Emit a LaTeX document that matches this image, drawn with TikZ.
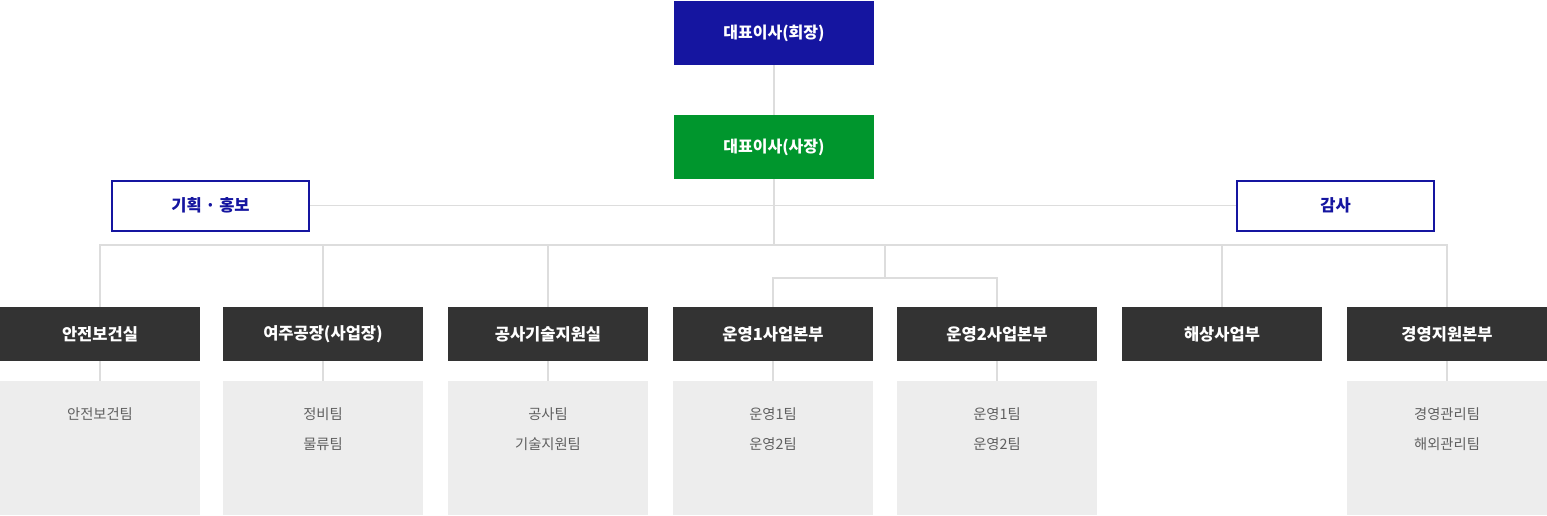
\documentclass[tikz,border=0pt]{standalone}
\usepackage{fontspec}
\setmainfont{Noto Sans CJK KR}
\usetikzlibrary{positioning}
\definecolor{chairblue}{HTML}{1515A0}
\definecolor{ceogreen}{HTML}{00962D}
\definecolor{deptgray}{HTML}{333333}
\definecolor{teamgray}{HTML}{EDEDED}
\definecolor{linegray}{HTML}{DDDDDD}
\definecolor{teamtext}{HTML}{606060}
\begin{document}
\begin{tikzpicture}[x=1pt, y=-1pt,
		link/.style={draw=linegray, line width=1.2pt},
		head/.style={minimum width=200pt, minimum height=64pt, inner sep=0pt, text=white, font=\bfseries\fontsize{16}{19}\selectfont},
		staff/.style={draw=chairblue, line width=2pt, fill=white, minimum width=197pt, minimum height=50pt, inner sep=0pt, text=chairblue, font=\bfseries\fontsize{16.5}{19}\selectfont},
		dept/.style={fill=deptgray, minimum width=200pt, minimum height=54pt, inner sep=0pt, text=white, font=\bfseries\fontsize{16.5}{19}\selectfont},
		team/.style={fill=teamgray, minimum width=200pt, minimum height=134pt, inner sep=0pt},
		teamlist/.style={align=center, inner sep=0pt, text=teamtext, font=\fontsize{14.3}{30}\selectfont}]
		\useasboundingbox (0,0) rectangle (1547,515);
		\node[head, fill=chairblue] (chair) at (774,33) {대표이사(회장)};
		\node[head, fill=ceogreen] (ceo) at (774,147) {대표이사(사장)};
		\node[staff] (plan) at (210.5,205.5) {기획 · 홍보};
		\node[staff] (audit) at (1335.5,205.5) {감사};
		\foreach \n/\x/\t in {1/100/안전보건실, 2/323/여주공장(사업장), 3/548/공사기술지원실, 4/773/운영1사업본부, 5/997/운영2사업본부, 6/1222/해상사업부, 7/1447/경영지원본부}
			\node[dept] (d\n) at (\x,334) {\t};
		\foreach \n/\l in {1/안전보건팀, 2/정비팀\\물류팀, 3/공사팀\\기술지원팀, 4/운영1팀\\운영2팀, 5/운영1팀\\운영2팀, 7/경영관리팀\\해외관리팀} {
			\node[team, below=20pt of d\n] (t\n) {};
			\node[teamlist, below=26pt of t\n.north] (l\n) {\l};
			\draw[link] (d\n) -- (t\n);
		}
		\coordinate (bus) at (774,245);
		\coordinate (sub) at (885,278);
		\draw[link] (chair) -- (ceo);
		\draw[link] (plan) -- (audit);
		\draw[link] (ceo) -- (bus);
		\draw[link] (d1.north) |- (bus) -| (d7.north);
		\foreach \n in {2,3,6}
			\draw[link] (d\n.north) -- (d\n.north |- bus);
		\draw[link] (bus -| sub) -- (sub);
		\draw[link] (d4.north) |- (sub) -| (d5.north);
\end{tikzpicture}
\end{document}
